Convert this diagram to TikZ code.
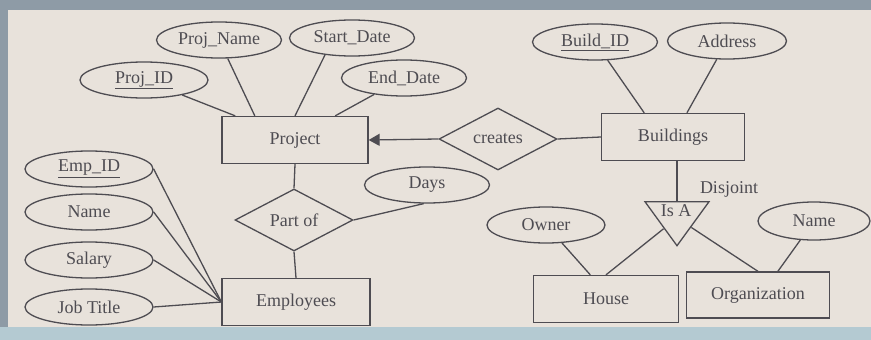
\documentclass[tikz,border=0pt]{standalone}
\usepackage{fontspec}
\setmainfont{Liberation Serif}
\usepackage{tikz}
\usetikzlibrary{positioning}
\usetikzlibrary{shapes.geometric}
\usetikzlibrary{arrows.meta}

\definecolor{ink}{HTML}{4E4C52}
\definecolor{paper}{HTML}{E8E2DB}
\definecolor{frame}{HTML}{8E9BA6}
\definecolor{strip}{HTML}{B4CAD2}

\begin{document}
\begin{tikzpicture}[
        x=1pt, y=-1pt,
        every node/.style={text=ink, font=\fontsize{18}{21}\selectfont},
        entity/.style={rectangle, draw=ink, line width=1.3pt, minimum width=146pt, minimum height=47pt, inner sep=0pt},
        attrib/.style={ellipse, draw=ink, line width=1.3pt, minimum width=125pt, minimum height=36pt, inner sep=0pt},
        relation/.style={diamond, draw=ink, line width=1.3pt, aspect=1.9, minimum width=118pt, minimum height=62pt, inner sep=0pt},
        isabox/.style={isosceles triangle, isosceles triangle stretches, shape border rotate=270, draw=ink, line width=1.3pt, minimum width=64pt, minimum height=44pt, inner sep=0pt},
        draw=ink, line width=1.3pt
    ]

    % Photo background
    \fill[frame] (0,0) rectangle (871,340);
    \fill[paper] (8,10) rectangle (871,327);
    \fill[strip] (0,327) rectangle (871,340);

    % Project and its attributes
    \node[entity] at (295,140) (project) {Project};
    \node[attrib] at (219,40) (projname) {Proj\_Name};
    \node[attrib] at (352,38) (startdate) {Start\_Date};
    \node[attrib, minimum width=128pt] at (144,80) (projid) {\underline{Proj\_ID}};
    \node[attrib] at (404,78) (enddate) {End\_Date};

    % Buildings and its attributes
    \node[entity, minimum width=143pt] at (673,137) (buildings) {Buildings};
    \node[attrib] at (595,42) (buildid) {\underline{Build\_ID}};
    \node[attrib, minimum width=119pt] at (727,41) (address) {Address};

    % Relationship creates
    \node[relation] at (498,139) (creates) {creates};

    % Employees and its attributes
    \node[entity, minimum width=148pt] at (296,302) (employees) {Employees};
    \node[attrib, minimum width=128pt] at (89,169) (empid) {\underline{Emp\_ID}};
    \node[attrib, minimum width=128pt] at (89,212) (empname) {Name};
    \node[attrib, minimum width=128pt] at (89,260) (salary) {Salary};
    \node[attrib, minimum width=128pt] at (89,307) (jobtitle) {Job Title};

    % Relationship Part of
    \node[relation] at (294,220) (partof) {Part of};
    \node[attrib] at (427,185) (days) {Days};

    % Is A hierarchy
    \node[isabox] at (677,218) (isa) {};
    \node at (676,211) (isatext) {Is A};
    \node at (729,189) (disjoint) {Disjoint};
    \node[entity, minimum width=145pt] at (606,299) (house) {House};
    \node[entity, minimum width=143pt, minimum height=46pt] at (758,295) (organization) {Organization};
    \node[attrib, minimum width=118pt] at (546,225) (owner) {Owner};
    \node[attrib, minimum width=112pt, minimum height=38pt] at (814,221) (orgname) {Name};

    % Attribute lines
    \draw (projid) -- (project.158);
    \draw (projname) -- (project.149);
    \draw (startdate.212) -- (project.north);
    \draw (enddate) -- (project.31);
    \draw (buildid) -- (buildings.140);
    \draw (address) -- (buildings.60);
    \draw (empid.east) -- (employees.west);
    \draw (empname.east) -- (employees.west);
    \draw (salary.east) -- (employees.west);
    \draw (jobtitle.east) -- (employees.west);
    \draw (owner) -- (house.123);
    \draw (orgname) -- (organization.50);

    % Relationship lines
    \draw[-{Triangle[length=11pt,width=12pt]}] (creates.west) -- (project.east);
    \draw (creates.east) -- (buildings.west);
    \draw (project.south) -- (partof.north);
    \draw (partof.south) -- (employees.north);
    \draw (partof.east) -- (days.260);

    % Is A lines
    \draw (buildings.south -| isa.north) -- (isa.north);
    \draw (isa) -- (house.north);
    \draw (isa) -- (organization.north);

\end{tikzpicture}
\end{document}
